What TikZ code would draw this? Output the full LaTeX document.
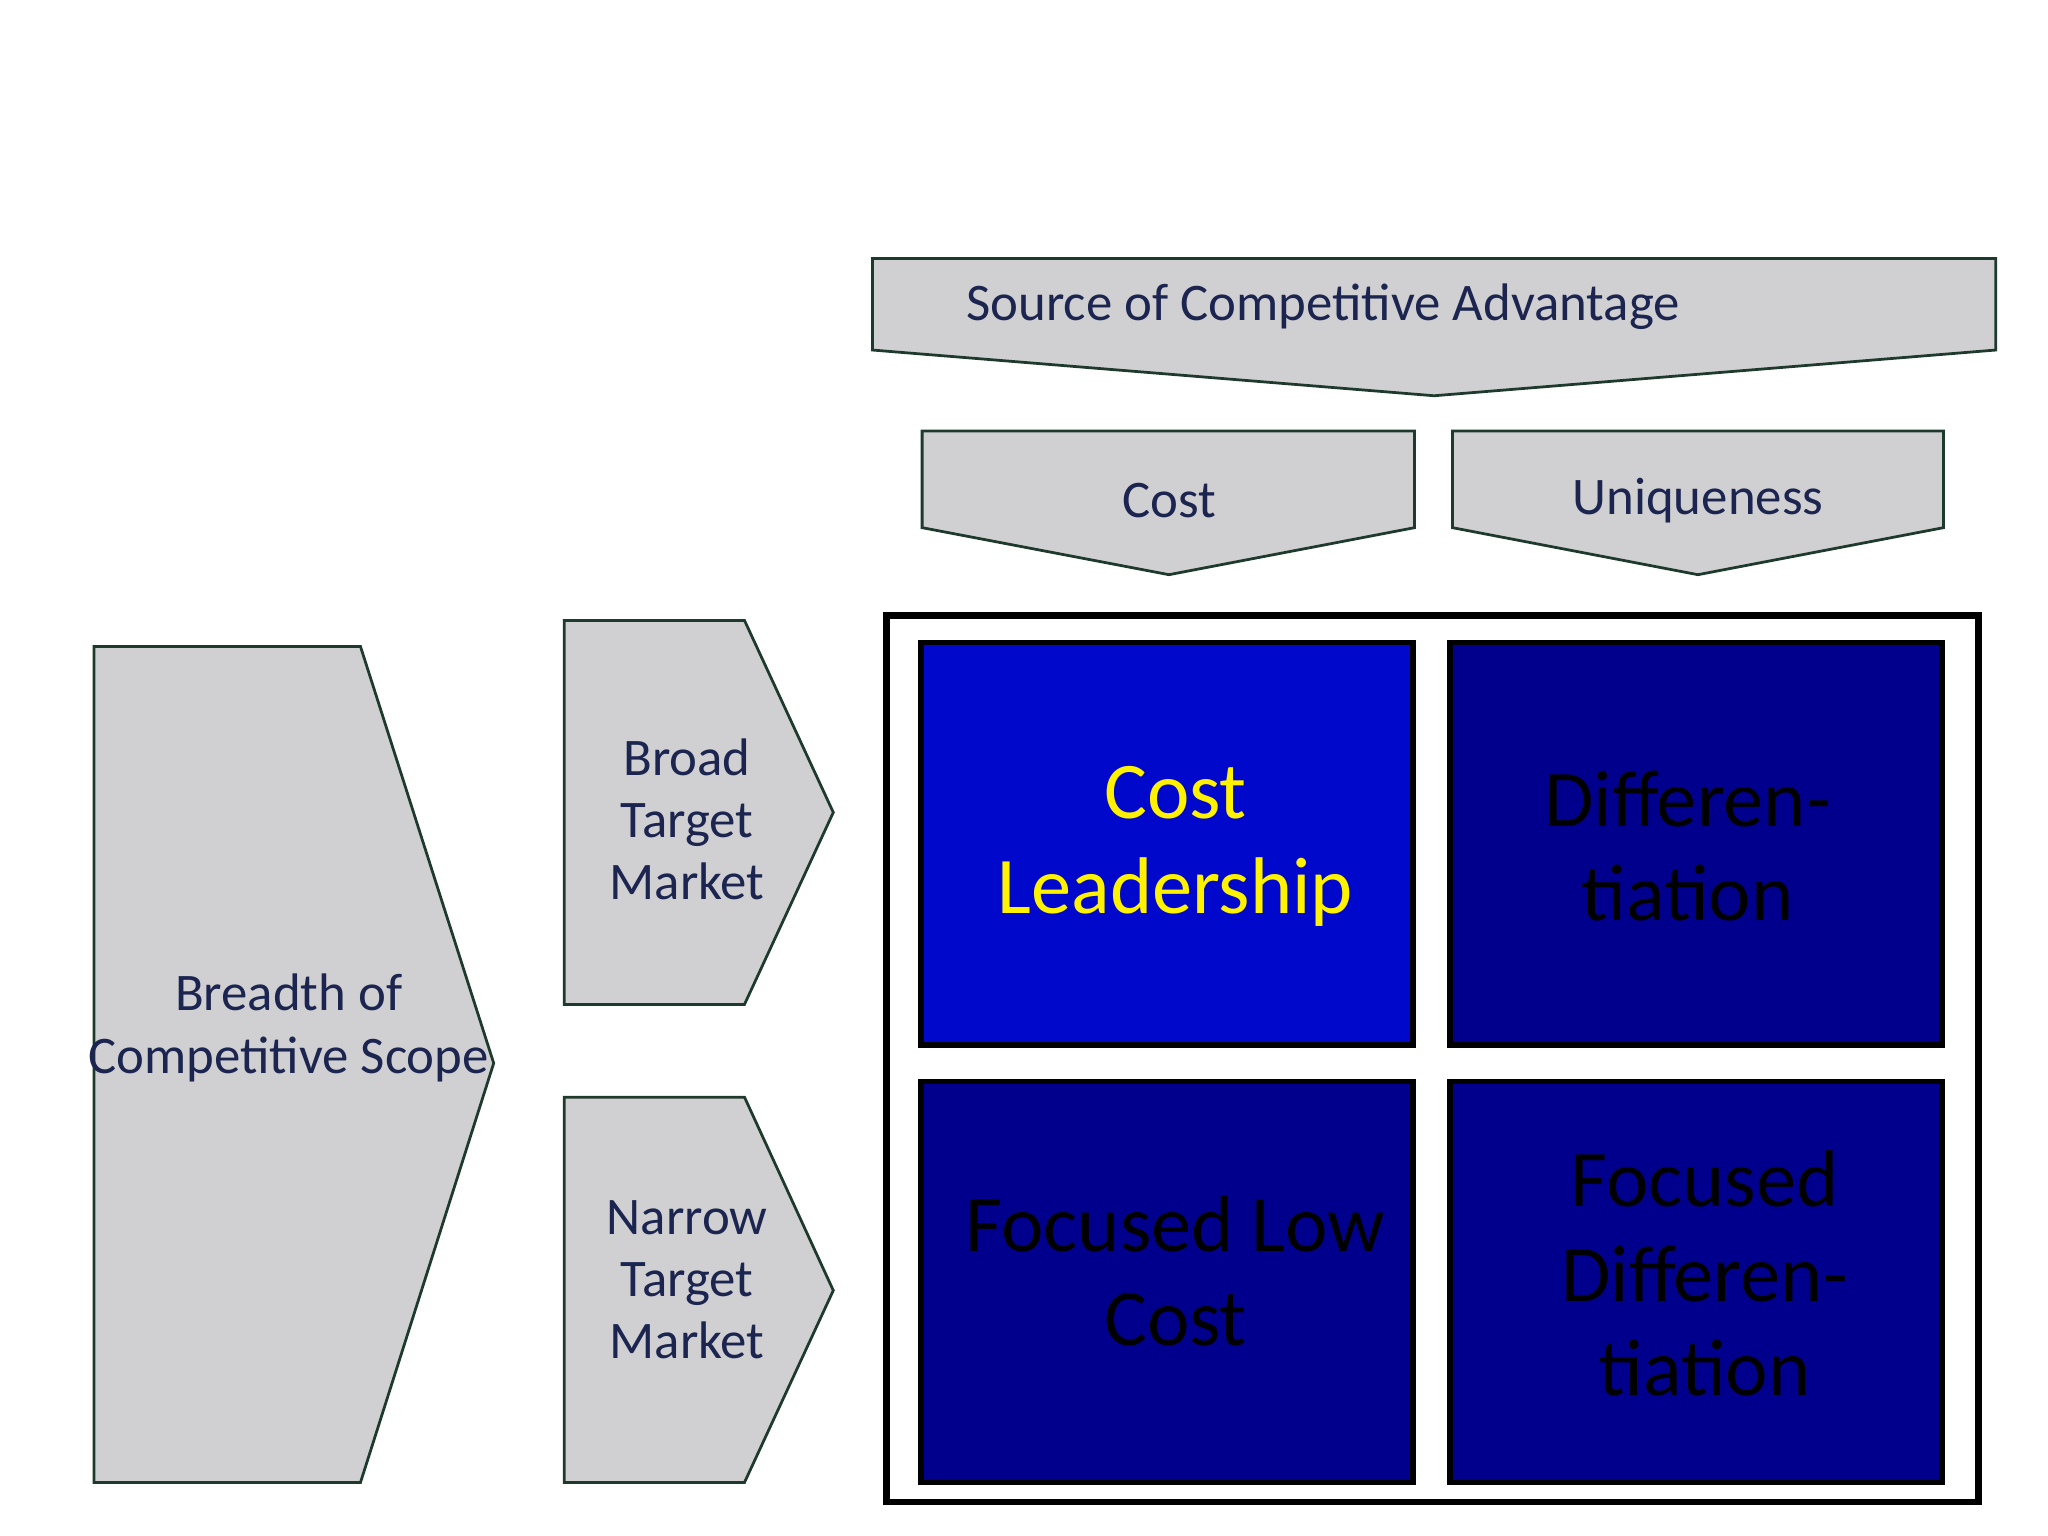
\documentclass[tikz,border=0pt]{standalone}
\usepackage{fontspec}
\setmainfont{Carlito}
\definecolor{gfill}{HTML}{D0CFD1}
\definecolor{gline}{HTML}{1E3A2C}
\definecolor{navytxt}{HTML}{1B2550}
\definecolor{cellA}{HTML}{0008CC}
\definecolor{cellB}{HTML}{00008C}
\begin{document}
\begin{tikzpicture}[x=0.01cm,y=-0.01cm,
  arrowshape/.style={fill=gfill,draw=gline,line width=0.6pt},
  lbl/.style={text=navytxt,font=\fontsize{11.5}{13.5}\selectfont,align=center},
  cell/.style={draw=black,line width=1.2pt},
  celltxt/.style={font=\fontsize{17.5}{20.5}\selectfont,align=center}]
\useasboundingbox (0,0) rectangle (1568,1176);
\fill[white] (0,0) rectangle (1568,1176);
\draw[arrowshape] (668,198) -- (1528,198) -- (1528,268) -- (1098,303) -- (668,268) -- cycle;
\node[lbl] (src) at (1013,235) {Source of Competitive Advantage};
\draw[arrowshape] (706,330) -- (1083,330) -- (1083,404) -- (895,440) -- (706,404) -- cycle;
\node[lbl] (cost) at (895,383) {Cost};
\draw[arrowshape] (1112,330) -- (1488,330) -- (1488,404) -- (1300,440) -- (1112,404) -- cycle;
\node[lbl] (uniq) at (1300,383) {Uniqueness};
\draw[arrowshape] (72,495) -- (276,495) -- (378,814) -- (276,1135) -- (72,1135) -- cycle;
\node[lbl] (breadth) at (221,787) {Breadth of\\Competitive Scope};
\draw[arrowshape] (432,475) -- (570,475) -- (638,622) -- (570,769) -- (432,769) -- cycle;
\node[lbl] (broad) at (526,627) {Broad\\Target\\Market};
\draw[arrowshape] (432,840) -- (570,840) -- (638,988) -- (570,1135) -- (432,1135) -- cycle;
\node[lbl] (narrow) at (526,980) {Narrow\\Target\\Market};
\draw[black,line width=1.5pt] (679,471) rectangle (1515,1150);
\draw[cell,fill=cellA] (705,492) rectangle (1082,800);
\draw[cell,fill=cellB] (1110,492) rectangle (1487,800);
\draw[cell,fill=cellB] (705,828) rectangle (1082,1135);
\draw[cell,fill=cellB] (1110,828) rectangle (1487,1135);
\node[celltxt,text=yellow] (cl) at (900,648) {Cost\\Leadership};
\node[celltxt,text=black] (df) at (1292,648) {Differen-\\tiation};
\node[celltxt,text=black] (flc) at (900,973) {Focused Low\\Cost};
\node[celltxt,text=black] (fd) at (1305,975) {Focused\\Differen-\\tiation};
\end{tikzpicture}
\end{document}
